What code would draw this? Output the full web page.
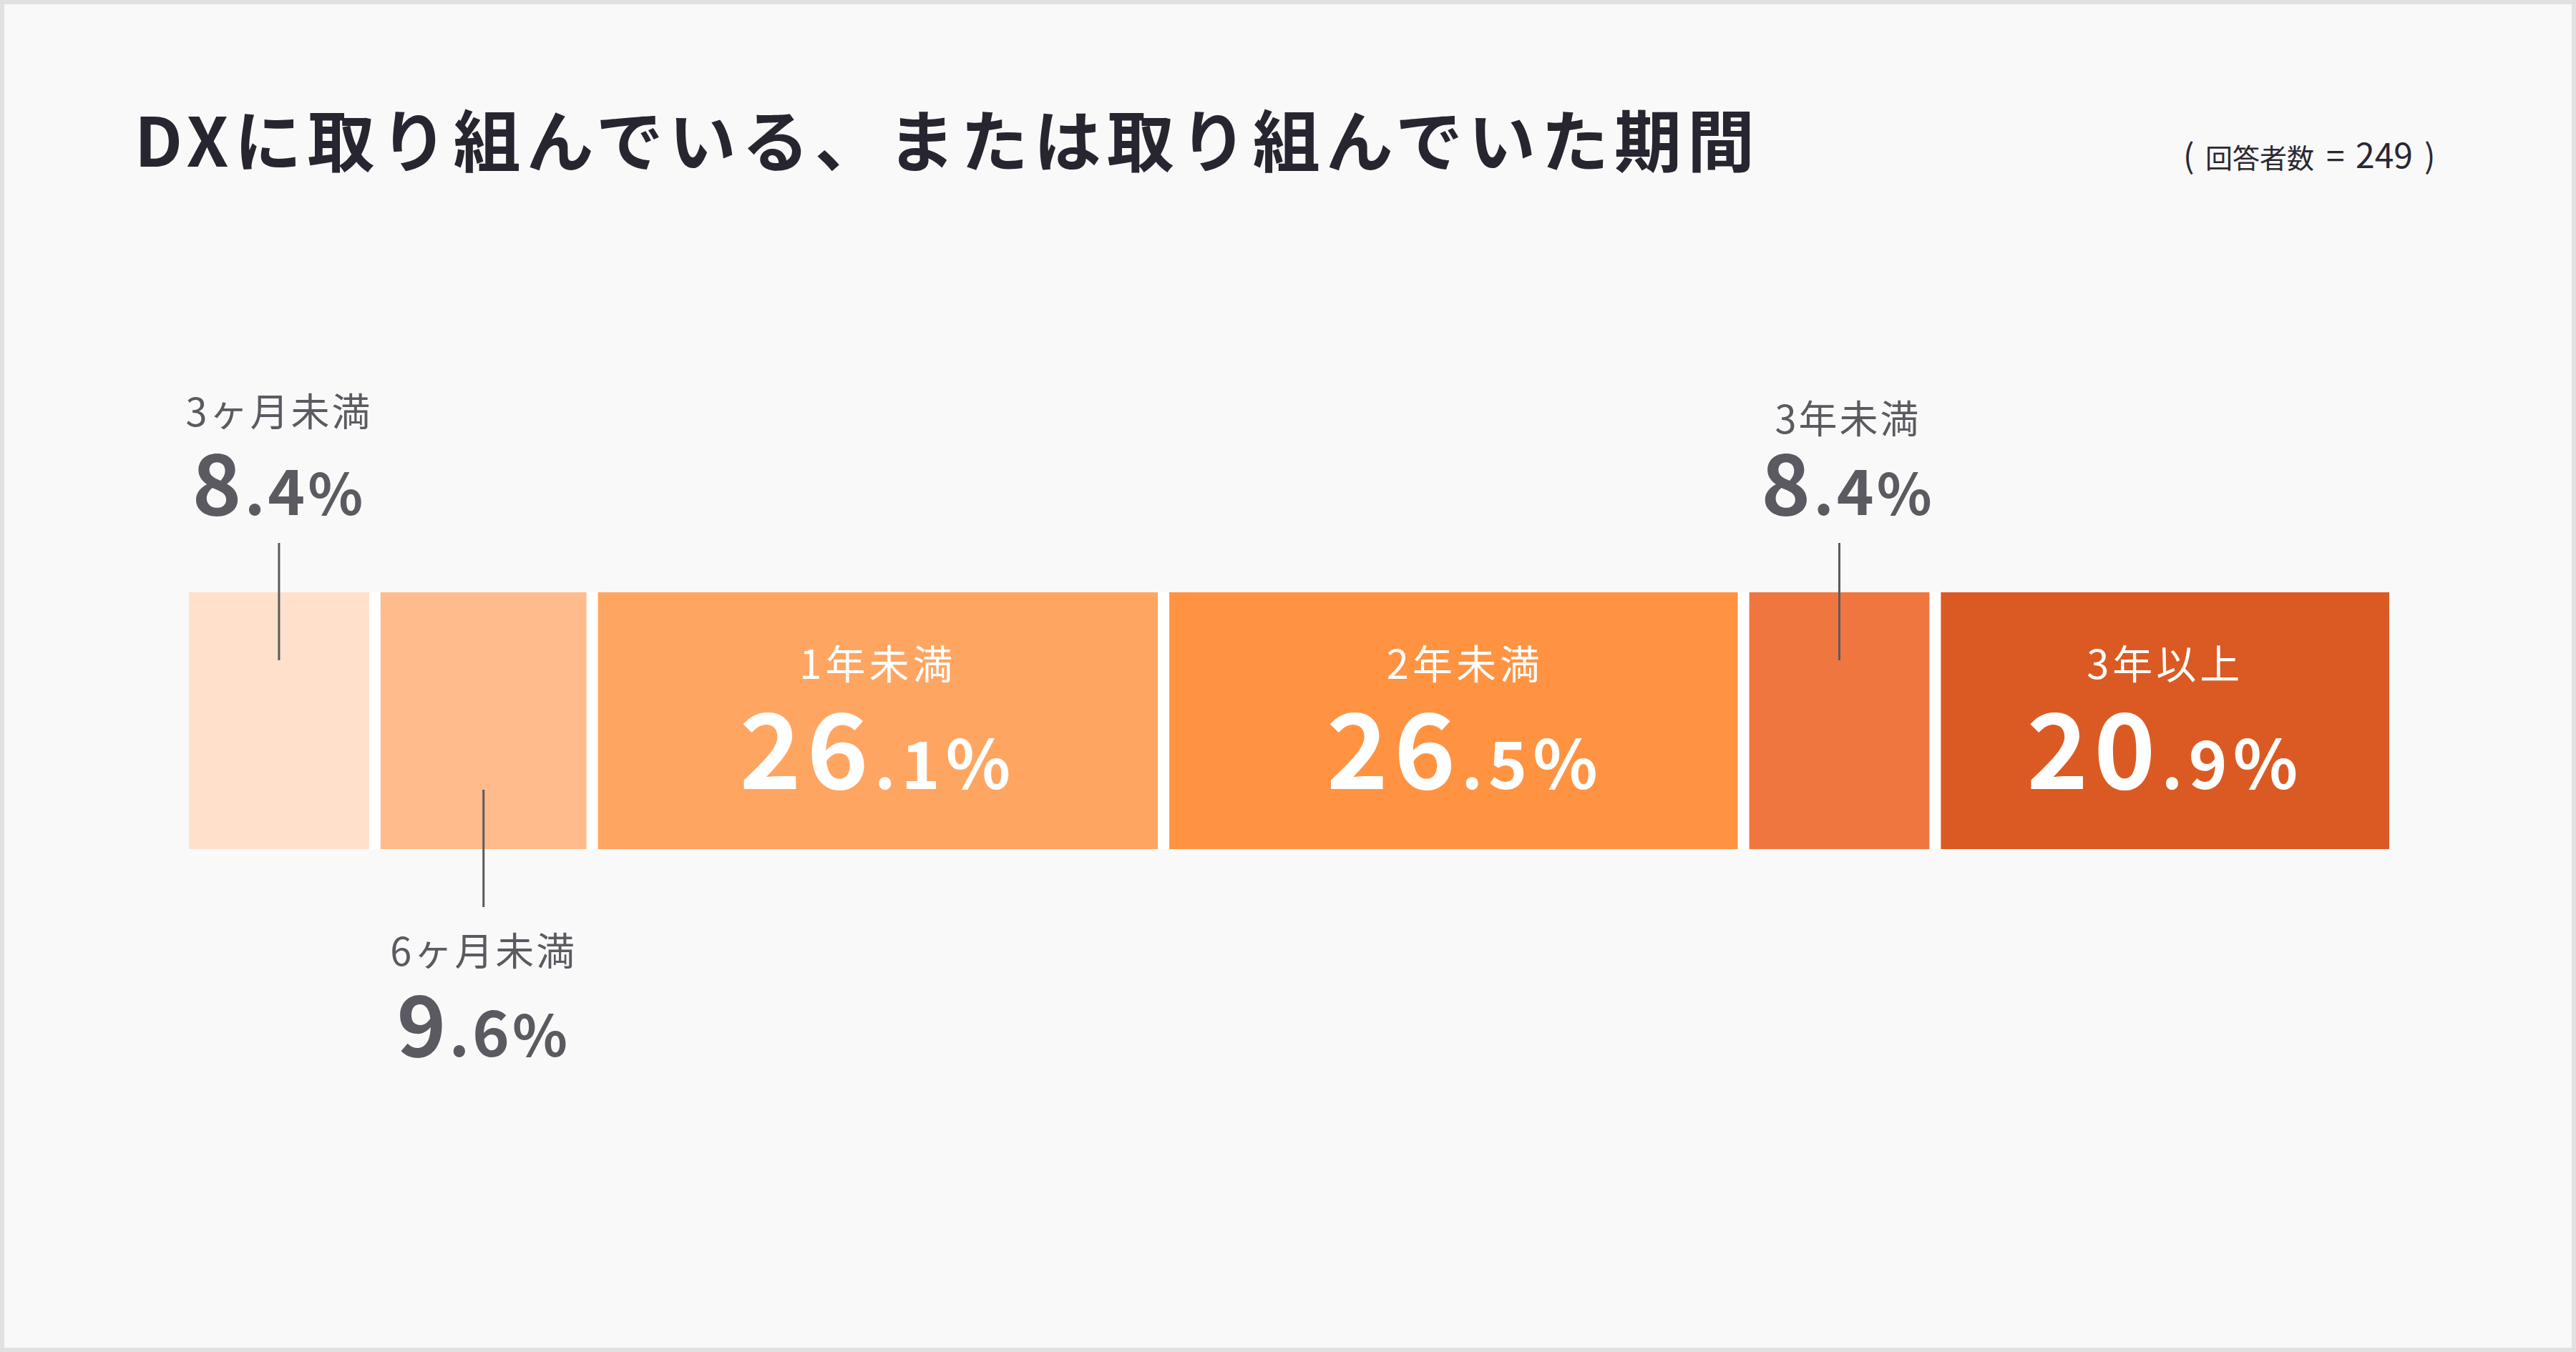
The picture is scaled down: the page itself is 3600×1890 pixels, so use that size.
<!DOCTYPE html>
<html>
<head>
<meta charset="utf-8">
<script src="https://cdn.jsdelivr.net/npm/d3@7"></script>
<style>
  html, body { margin: 0; padding: 0; background: #f9f9f9; overflow: hidden; }
</style>
</head>
<body>
<script>
// data
const categories = ["3ヶ月未満", "6ヶ月未満", "1年未満", "2年未満", "3年未満", "3年以上"];
const values = [8.4, 9.6, 26.1, 26.5, 8.4, 20.9];
const barColors = ["#ffe0cb", "#ffbb8b", "#ffa562", "#ff9342", "#f0763f", "#db5a23"];
const placements = ["above", "below", "inside", "inside", "above", "inside"];
const titleText = "DXに取り組んでいる、または取り組んでいた期間";
const respondentLabel = "回答者数";
const respondentCount = 249;

const width = 3600;
const height = 1890;
const jp = "'Noto Sans CJK JP', 'Noto Sans', sans-serif";
const grey = "#5b5a61";

// small nudges where the reference labels sit off the bar centre
const labelShift = { "2年未満": [16, 0], "3年未満": [12, 10] };

const svg = d3
  .select("body")
  .append("svg")
  .attr("width", width)
  .attr("height", height);

svg
  .append("rect")
  .attr("x", 3)
  .attr("y", 3)
  .attr("width", width - 6)
  .attr("height", height - 6)
  .attr("fill", "#f9f9f9")
  .attr("stroke", "#e1e1e1")
  .attr("stroke-width", 6);

// title
svg
  .append("text")
  .attr("x", 188)
  .attr("y", 233)
  .attr("fill", "#27252f")
  .attr("font-family", jp)
  .attr("font-weight", 700)
  .attr("font-size", 94)
  .attr("letter-spacing", 8)
  .text(titleText);

// ( 回答者数 = 249 )
const nText = svg
  .append("text")
  .attr("y", 235)
  .attr("fill", "#2a2832")
  .attr("font-family", jp)
  .attr("font-weight", 400);
nText.append("tspan").attr("x", 3051).attr("font-size", 46).text("(");
nText.append("tspan").attr("x", 3082).attr("font-size", 38).text(respondentLabel);
nText.append("tspan").attr("x", 3251).attr("font-size", 46).text("=");
nText.append("tspan").attr("x", 3292).attr("font-size", 48).text(respondentCount);
nText.append("tspan").attr("x", 3388).attr("font-size", 46).text(")");

// bar geometry
const barLeft = 264;
const barRight = 3339;
const gap = 16;
const barTop = 828;
const barBottom = 1187;

const total = d3.sum(values);
const starts = [0, ...d3.cumsum(values)];
const x = d3
  .scaleLinear()
  .domain([0, total])
  .range([barLeft, barRight - gap * (values.length - 1)]);

const bars = values.map((v, i) => {
  const x0 = x(starts[i]) + i * gap;
  const x1 = x(starts[i] + v) + i * gap;
  const [dx, dy] = labelShift[categories[i]] || [0, 0];
  return {
    cat: categories[i],
    v,
    x0,
    x1,
    cx: (x0 + x1) / 2,
    dx,
    dy,
    color: barColors[i],
    place: placements[i],
  };
});

// white shows through the gaps between the bars
svg
  .append("rect")
  .attr("x", barLeft)
  .attr("y", barTop)
  .attr("width", barRight - barLeft)
  .attr("height", barBottom - barTop)
  .attr("fill", "#ffffff");

svg
  .append("g")
  .selectAll("rect")
  .data(bars)
  .join("rect")
  .attr("x", (d) => d.x0)
  .attr("y", barTop)
  .attr("width", (d) => d.x1 - d.x0)
  .attr("height", barBottom - barTop)
  .attr("fill", (d) => d.color);

function valueText(sel, d, big, small, pct, spacing) {
  const [intPart, decPart] = d.v.toFixed(1).split(".");
  sel.attr("letter-spacing", spacing);
  sel.append("tspan").attr("font-size", big).text(intPart);
  sel.append("tspan").attr("font-size", small).text("." + decPart);
  sel.append("tspan").attr("font-size", pct).text("%");
}

// labels inside the wide bars
bars
  .filter((d) => d.place === "inside")
  .forEach((d) => {
    svg
      .append("text")
      .attr("x", d.cx + d.dx)
      .attr("y", 949)
      .attr("text-anchor", "middle")
      .attr("fill", "#ffffff")
      .attr("font-family", jp)
      .attr("font-size", 56)
      .attr("letter-spacing", 5)
      .text(d.cat);
    svg
      .append("text")
      .attr("x", d.cx + d.dx)
      .attr("y", 1103)
      .attr("text-anchor", "middle")
      .attr("fill", "#ffffff")
      .attr("font-family", jp)
      .attr("font-weight", 700)
      .call(valueText, d, 146, 92, 94, 8);
  });

// labels outside the narrow bars, with leader lines
bars
  .filter((d) => d.place !== "inside")
  .forEach((d) => {
    const above = d.place === "above";
    svg
      .append("line")
      .attr("x1", d.cx)
      .attr("x2", d.cx)
      .attr("y1", above ? 759 : 1104)
      .attr("y2", above ? 923 : 1268)
      .attr("stroke", grey)
      .attr("stroke-width", 3);
    svg
      .append("text")
      .attr("x", d.cx + d.dx)
      .attr("y", (above ? 596 : 1350) + d.dy)
      .attr("text-anchor", "middle")
      .attr("fill", grey)
      .attr("font-family", jp)
      .attr("font-size", 54)
      .attr("letter-spacing", 3)
      .text(d.cat);
    svg
      .append("text")
      .attr("x", d.cx + d.dx)
      .attr("y", above ? 720 : 1477)
      .attr("text-anchor", "middle")
      .attr("fill", grey)
      .attr("font-family", jp)
      .attr("font-weight", 700)
      .call(valueText, d, 117, 88, 80, 4);
  });
</script>
</body>
</html>
